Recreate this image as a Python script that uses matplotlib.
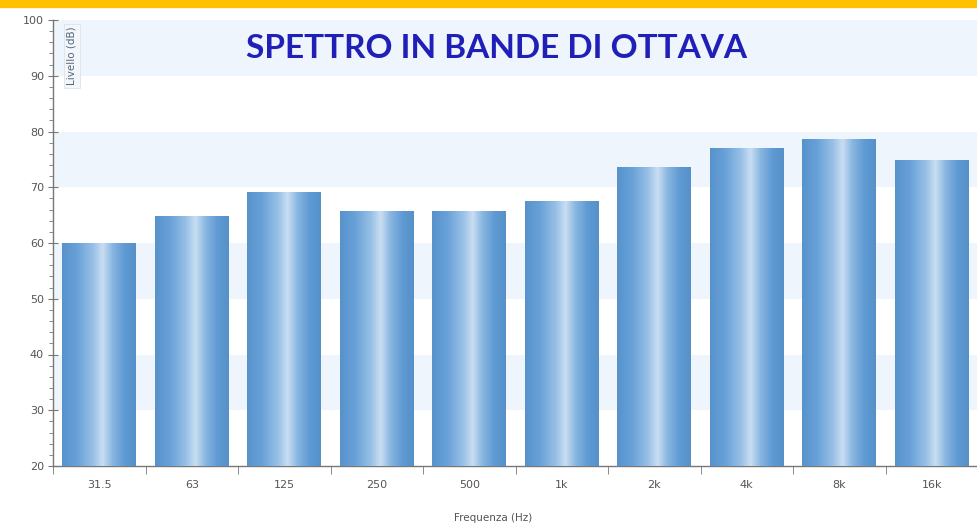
import matplotlib.pyplot as plt
import numpy as np
from matplotlib.colors import LinearSegmentedColormap

bande = ['31.5', '63', '125', '250', '500', '1k', '2k', '4k', '8k', '16k']
livello = [60.0, 64.9, 69.1, 65.7, 65.7, 67.6, 73.7, 77.0, 78.6, 74.8]

fig = plt.figure(figsize=(9.78, 5.25), dpi=100)
fig.patch.set_facecolor('white')
# striscia gialla in alto
fig.patches.append(plt.Rectangle((0, 1 - 7/525), 1, 7/525, transform=fig.transFigure,
                                 color='#FFC000', zorder=0))

ax = fig.add_axes([53/978, 59/525, 1 - 53/978, 446/525])
ax.set_facecolor('white')
for lo in (30, 50, 70, 90):
    ax.axhspan(lo, lo + 10, color='#EFF5FC', zorder=0, lw=0)

x = np.arange(len(bande))
bars = ax.bar(x, [v - 20 for v in livello], bottom=20, width=0.8, color='#6BA3D8', zorder=2)

# sfumatura "cilindrica" sulle barre
cm = LinearSegmentedColormap.from_list('cil', [
    (0.0, '#5892CB'), (0.2, '#68A1D8'), (0.42, '#98C0E6'), (0.55, '#C9DEF2'),
    (0.68, '#8AB7E1'), (0.85, '#5E9AD3'), (1.0, '#5790C9')])
grad = np.linspace(0, 1, 256).reshape(1, -1)
for b in bars:
    im = ax.imshow(grad, cmap=cm, aspect='auto', zorder=3,
                   extent=[b.get_x(), b.get_x() + b.get_width(), b.get_y(), b.get_y() + b.get_height()])
    im.set_clip_path(b)

ax.set_xlim(-0.5, 9.35)
ax.set_ylim(20, 100)
ax.set_yticks(range(20, 101, 10))
ax.set_yticks(range(20, 101, 2), minor=True)
ax.set_xticks(x)
ax.set_xticklabels(bande)
ax.set_xticks(np.arange(-0.5, 10, 1), minor=True)
ax.tick_params(axis='x', which='major', length=0, pad=10, labelsize=8, labelcolor='#555555')
ax.tick_params(axis='x', which='minor', length=6, color='#777777', direction='out')
ax.tick_params(axis='y', which='major', length=7, color='#777777', labelsize=8, labelcolor='#555555',
               direction='inout', pad=3)
ax.tick_params(axis='y', which='minor', length=3, color='#777777', direction='out')

for s in ('top', 'right'):
    ax.spines[s].set_visible(False)
for s in ('left', 'bottom'):
    ax.spines[s].set_color('#777777')
    ax.spines[s].set_linewidth(1)

ax.text(0.0205, 0.985, 'Livello (dB)', transform=ax.transAxes, rotation=90, fontsize=7.5,
        color='#556677', va='top', ha='center',
        bbox=dict(boxstyle='square,pad=0.3', fc='#F3F6FA', ec='#DDE3EA', lw=0.6))
fig.text(493/978, 1 - 518/525, 'Frequenza (Hz)', fontsize=7.5, color='#555555', ha='center', va='center')
fig.text(497/978, 1 - 49/525, 'SPETTRO IN BANDE DI OTTAVA', fontsize=24, fontweight='bold',
         family='Lato', color='#2020B8', ha='center', va='center')

plt.savefig('out.png', dpi=100)
